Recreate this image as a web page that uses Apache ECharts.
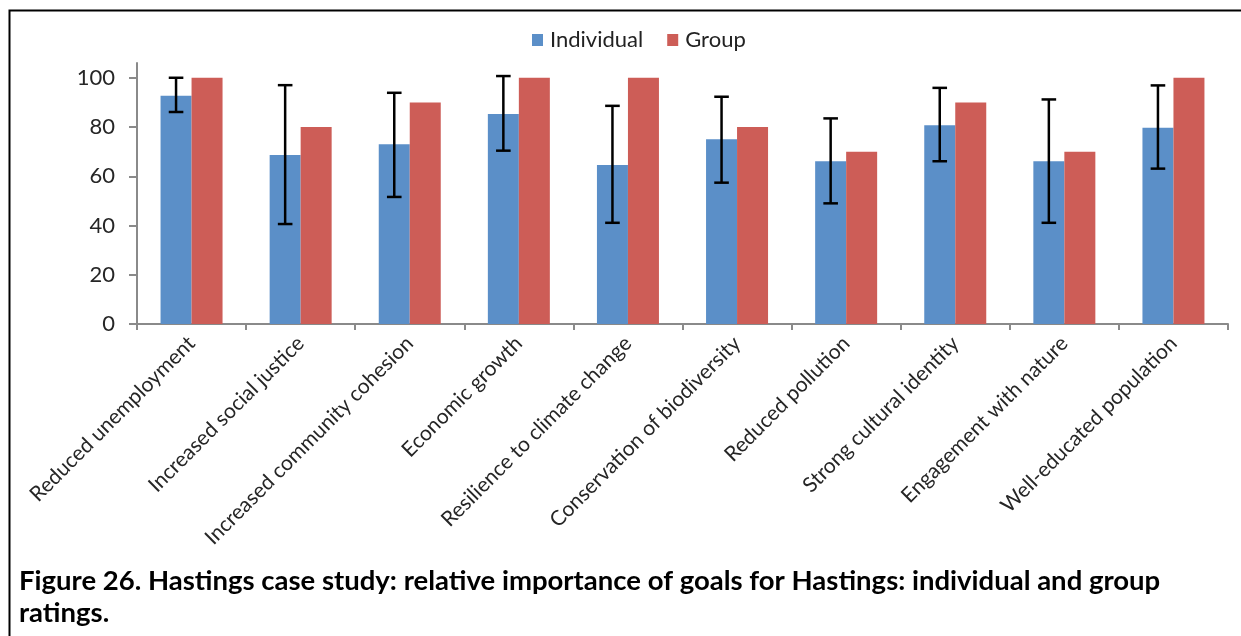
<!DOCTYPE html>
<html>
<head>
<meta charset="utf-8">
<script src="https://cdn.jsdelivr.net/npm/echarts@6/dist/echarts.min.js"></script>
<style>
  html, body { margin: 0; padding: 0; background: #fff; }
  #chart { width: 1241px; height: 636px; }
</style>
</head>
<body>
<div id="chart"></div>
<script>
const categories = [
  'Reduced unemployment',
  'Increased social justice',
  'Increased community cohesion',
  'Economic growth',
  'Resilience to climate change',
  'Conservation of biodiversity',
  'Reduced pollution',
  'Strong cultural identity',
  'Engagement with nature',
  'Well-educated population'
]
const individual = [92.7, 68.6, 73, 85.3, 64.6, 75, 66.1, 80.7, 66.1, 79.7]
const group = [100, 80, 90, 100, 100, 80, 70, 90, 70, 100]
// error bar ends for the individual ratings
const errLow = [86.1, 40.6, 51.6, 70.4, 41.1, 57.4, 49.0, 66.1, 41.1, 63.1]
const errHigh = [100, 97, 93.9, 100.7, 88.6, 92.3, 83.5, 95.9, 91.2, 96.9]
const yTicks = [0, 20, 40, 60, 80, 100]

const font = 'Lato, "Open Sans", sans-serif'
const barW = 31

const chart = echarts.init(document.getElementById('chart'), null, { renderer: 'canvas' })

chart.setOption({
  animation: false,
  textStyle: { fontFamily: font },
  legend: {
    left: 527,
    top: 24,
    itemWidth: 11,
    itemHeight: 12,
    itemGap: 24,
    icon: 'rect',
    textStyle: { fontSize: 22, color: '#222', fontFamily: font, padding: [0, 0, 0, 2] },
    data: ['Individual', 'Group']
  },
  grid: {
    left: 137,
    right: 13,
    top: 63,
    bottom: 312,
    containLabel: false,
    outerBoundsMode: 'none'
  },
  xAxis: {
    type: 'category',
    data: categories,
    axisLine: { lineStyle: { color: '#8a8a8a', width: 2 } },
    axisTick: { show: true, length: 6, lineStyle: { color: '#8a8a8a', width: 2 } },
    axisLabel: {
      interval: 0,
      rotate: 45,
      margin: 16,
      fontSize: 21,
      color: '#262626',
      fontFamily: font
    }
  },
  yAxis: {
    type: 'value',
    min: 0,
    max: 106,
    interval: 20,
    splitLine: { show: false },
    axisLine: { show: true, lineStyle: { color: '#8a8a8a', width: 2 } },
    axisTick: { show: true, length: 8, customValues: yTicks, lineStyle: { color: '#8a8a8a', width: 2 } },
    axisLabel: {
      margin: 22,
      fontSize: 22,
      color: '#262626',
      fontFamily: font,
      customValues: yTicks,
      formatter: v => (v % 20 === 0 ? String(v) : '')
    }
  },
  series: [
    {
      name: 'Individual',
      type: 'bar',
      barWidth: barW,
      barGap: '0%',
      itemStyle: { color: '#5b8fc8' },
      data: individual
    },
    {
      name: 'Group',
      type: 'bar',
      barWidth: barW,
      itemStyle: { color: '#cd5d57' },
      data: group
    },
    {
      type: 'custom',
      name: 'error',
      z: 10,
      encode: { x: 0, y: [1, 2] },
      data: categories.map((c, i) => [i, errLow[i], errHigh[i]]),
      renderItem: (params, api) => {
        const lo = api.coord([api.value(0), api.value(1)])
        const hi = api.coord([api.value(0), api.value(2)])
        const cx = lo[0] - barW / 2
        const hw = 7.3
        const style = { stroke: '#000', lineWidth: 2.5 }
        return {
          type: 'group',
          children: [
            { type: 'line', shape: { x1: cx, y1: hi[1], x2: cx, y2: lo[1] }, style },
            { type: 'line', shape: { x1: cx - hw, y1: hi[1], x2: cx + hw, y2: hi[1] }, style },
            { type: 'line', shape: { x1: cx - hw, y1: lo[1], x2: cx + hw, y2: lo[1] }, style }
          ]
        }
      }
    }
  ],
  graphic: [
    {
      type: 'rect',
      left: 7,
      top: 8,
      shape: { width: 1300, height: 700 },
      style: { fill: 'none', stroke: '#000', lineWidth: 2 },
      silent: true
    },
    {
      type: 'text',
      left: 19,
      top: 567,
      style: {
        text: 'Figure 26. Hastings case study: relative importance of goals for Hastings: individual and group',
        font: 'bold 27.5px ' + font,
        fill: '#000'
      }
    },
    {
      type: 'text',
      left: 19,
      top: 599,
      style: {
        text: 'ratings.',
        font: 'bold 27.5px ' + font,
        fill: '#000'
      }
    }
  ]
})
</script>
</body>
</html>
